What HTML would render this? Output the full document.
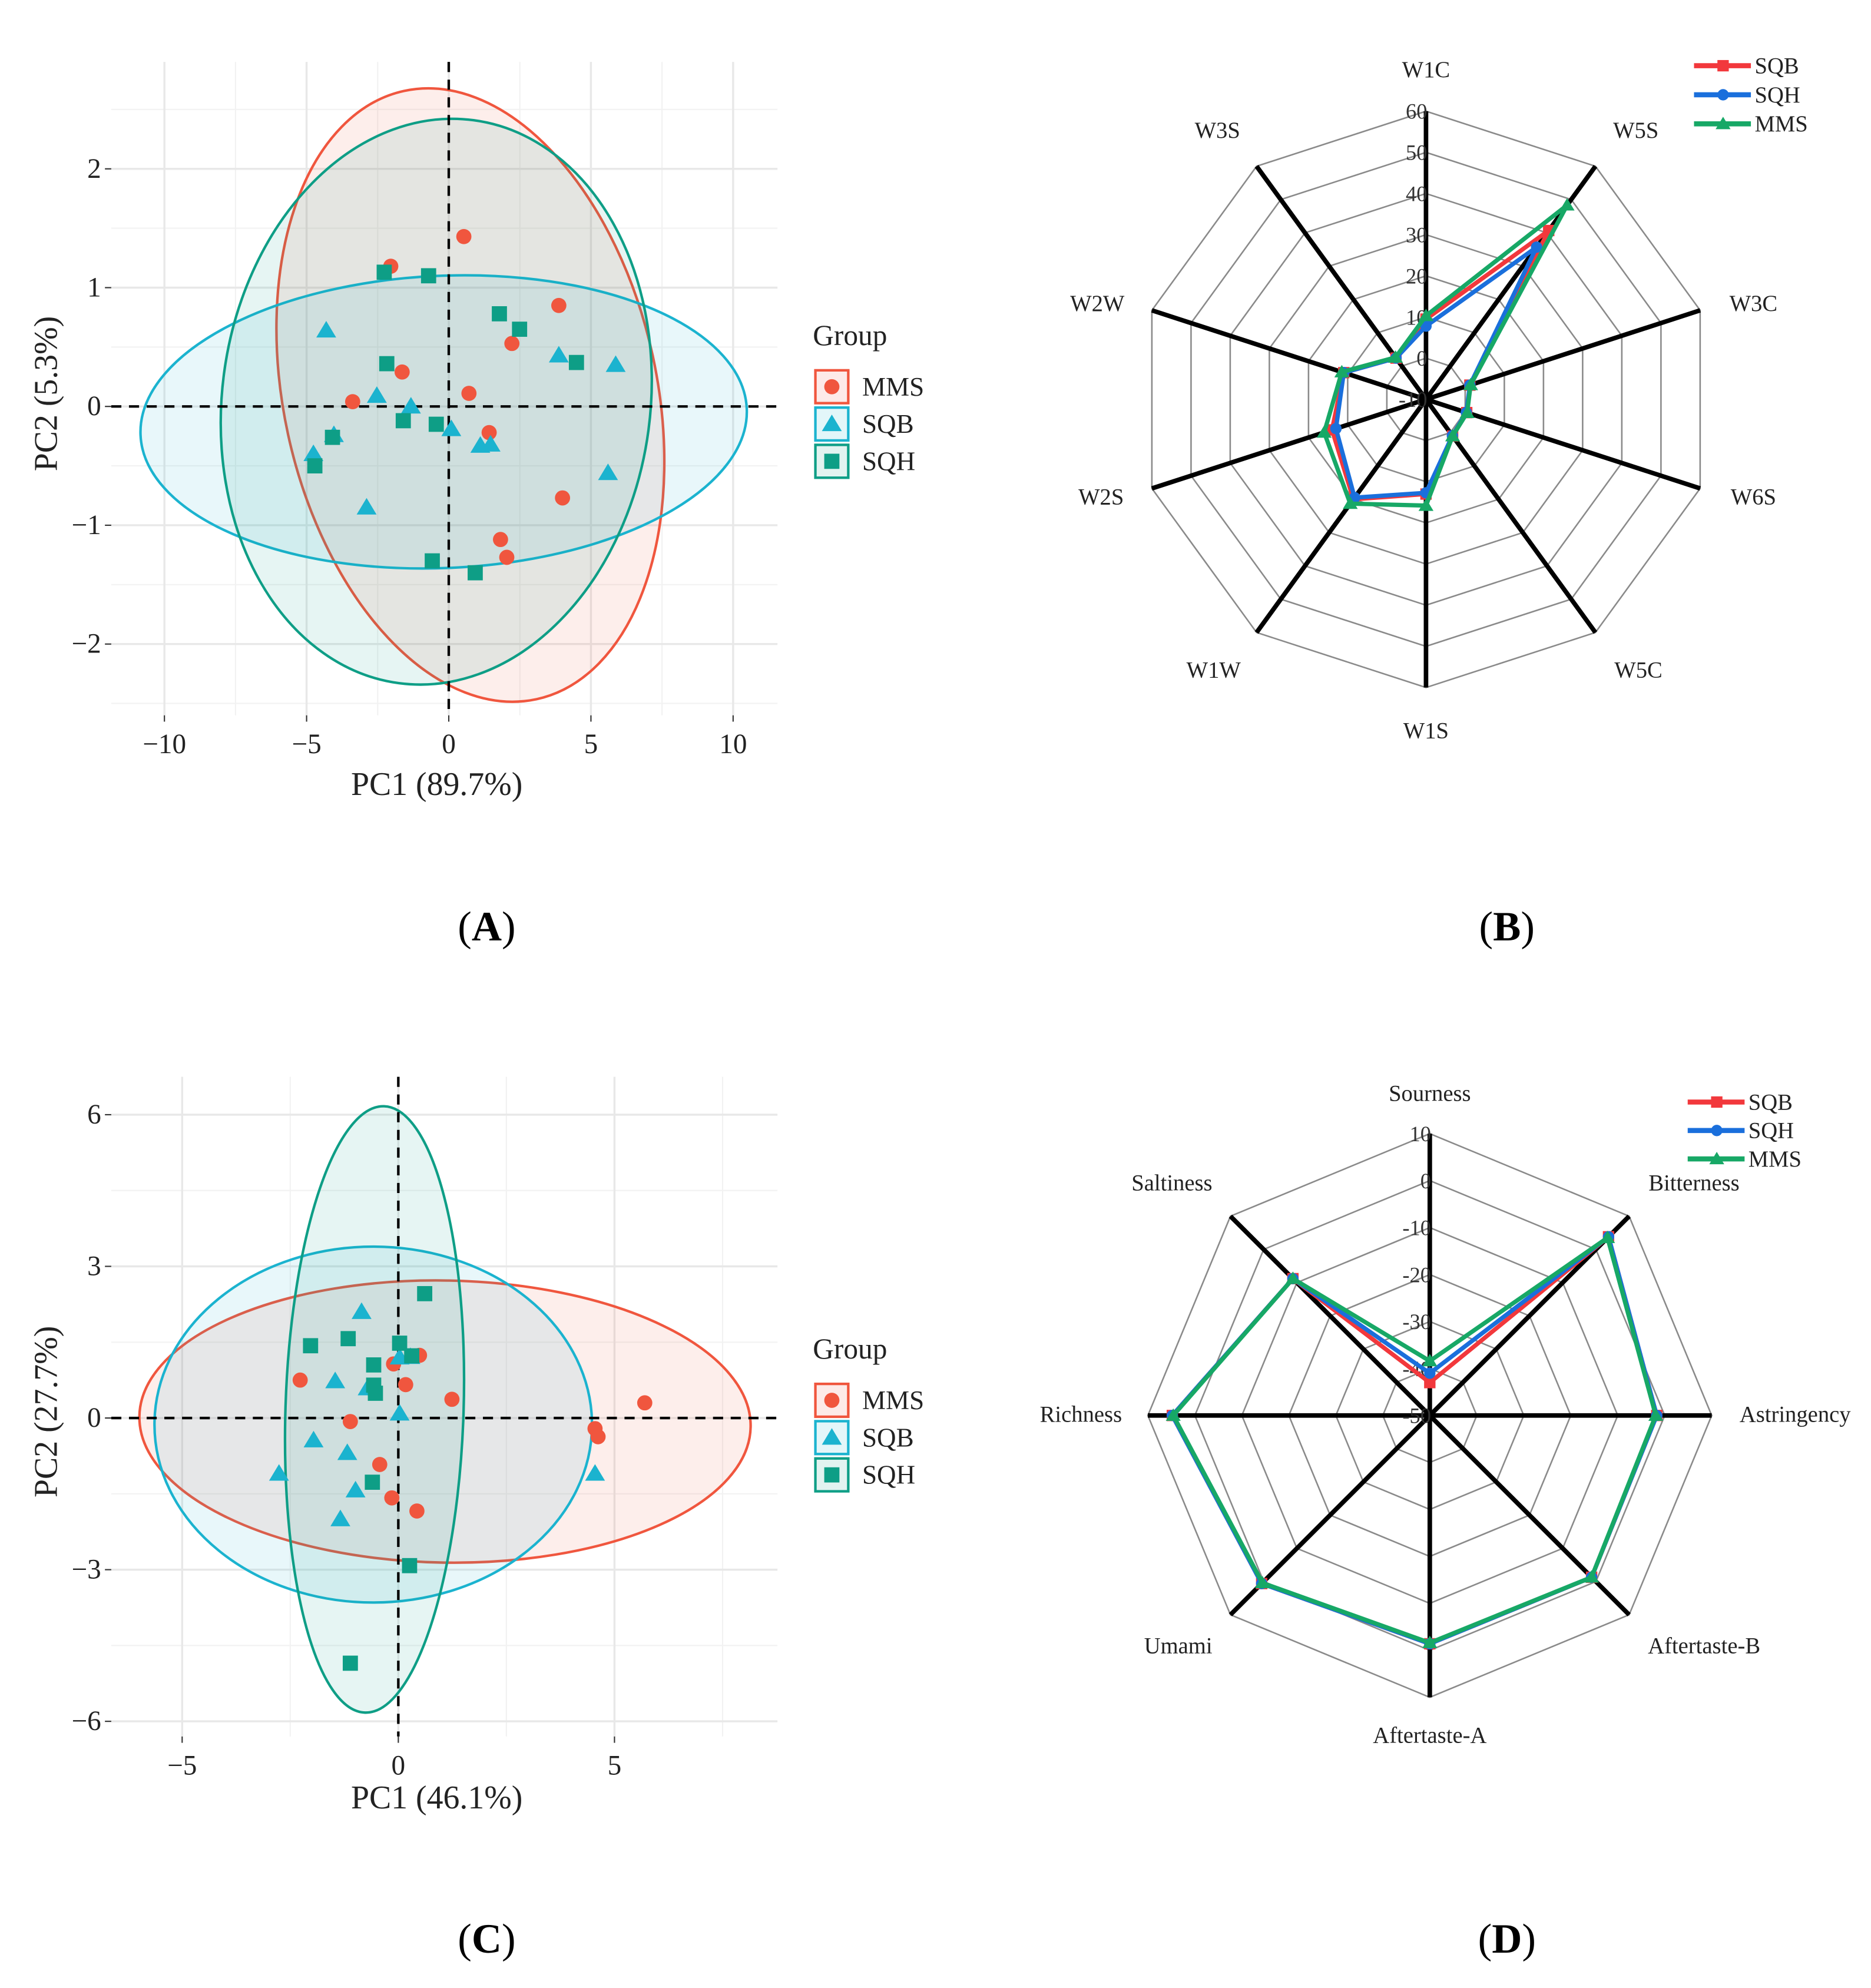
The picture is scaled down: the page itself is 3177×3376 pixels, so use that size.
<!DOCTYPE html>
<html><head><meta charset="utf-8"><style>
html,body{margin:0;padding:0;background:#fff;}
svg{display:block;font-family:"Liberation Serif",serif;}
</style></head><body>
<svg id="fig" xmlns="http://www.w3.org/2000/svg" width="3177" height="3376" viewBox="0 0 1480 1573" preserveAspectRatio="none"></svg>
<script>
// ---------- Panel A data ----------
const A_mms_x=[0.53,-2.04,3.87,2.22,-1.64,0.71,-3.38,1.42,4.0,1.82,2.04];
const A_mms_y=[1.43,1.18,0.85,0.53,0.29,0.11,0.04,-0.22,-0.77,-1.12,-1.27];
const A_sqb_x=[-4.31,-2.53,-1.33,0.09,1.11,1.47,3.87,5.87,5.6,-2.89,-4.76,-4.04];
const A_sqb_y=[0.64,0.09,0.0,-0.19,-0.33,-0.32,0.43,0.35,-0.56,-0.85,-0.4,-0.24];
const A_sqh_x=[-2.27,-0.71,1.78,2.49,4.49,-2.18,-1.6,-0.44,-4.09,-4.71,-0.58,0.93];
const A_sqh_y=[1.13,1.10,0.78,0.65,0.37,0.36,-0.12,-0.15,-0.26,-0.5,-1.3,-1.4];
const A_ell_cx=[0.76,-0.18,-0.44];
const A_ell_cy=[0.096,-0.13,0.04];
const A_ell_rx=[6.56,10.67,7.53];
const A_ell_ry=[2.62,1.23,2.39];
const A_ell_rot=[-12.3,-2.5,7.55];
const A_xticks=[-10,-5,0,5,10];
const A_yticks=[2,1,0,-1,-2];
const A_xtickLabels=["\u221210","\u22125","0","5","10"];
const A_ytickLabels=["2","1","0","\u22121","\u22122"];
// ---------- Panel C data ----------
const C_mms_x=[5.7,4.55,4.62,-2.27,-0.11,0.49,0.17,1.24,-1.11,-0.43,-0.15,0.43];
const C_mms_y=[0.3,-0.21,-0.37,0.75,1.07,1.24,0.66,0.37,-0.07,-0.92,-1.58,-1.84];
const C_sqb_x=[-0.85,-1.46,-0.71,0.03,0.03,-1.96,-1.18,-2.76,-0.99,-1.34,4.55,0.28];
const C_sqb_y=[2.1,0.73,0.59,1.2,0.09,-0.44,-0.69,-1.1,-1.43,-2.0,-1.1,1.21];
const C_sqh_x=[0.61,-2.03,-1.16,0.03,0.31,-0.57,-0.57,-0.53,-0.6,0.26,-1.11];
const C_sqh_y=[2.46,1.43,1.57,1.48,1.23,1.05,0.65,0.49,-1.27,-2.92,-4.85];
const C_ell_cx=[1.08,-0.58,-0.55];
const C_ell_cy=[-0.07,-0.13,0.17];
const C_ell_rx=[7.07,5.06,2.06];
const C_ell_ry=[2.79,3.52,6.0];
const C_ell_rot=[1,0,1.8];
const C_xticks=[-5,0,5];
const C_yticks=[6,3,0,-3,-6];
const C_xtickLabels=["\u22125","0","5"];
const C_ytickLabels=["6","3","0","\u22123","\u22126"];
// ---------- Panel B data ----------
const B_axes=["W1C","W5S","W3C","W6S","W5C","W1S","W1W","W2S","W2W","W3S"];
const B_sqb=[9.5,40.7,1.2,0.4,1,13,20,14,11,2.4];
const B_sqh=[7.8,35.7,1.2,0.3,0.9,12.7,19.5,13,11,2.4];
const B_mms=[10.3,48.3,1.4,0.5,1,15.8,21.3,16,11.5,2.6];
const B_ticks=[60,50,40,30,20,10,0,-10];
// ---------- Panel D data ----------
const D_axes=["Sourness","Bitterness","Astringency","Aftertaste-B","Aftertaste-A","Umami","Richness","Saltiness"];
const D_sqb=[-43,3.8,-1.7,-1.3,-1.4,0.6,4.8,-8.8];
const D_sqh=[-41,3.8,-1.7,-1.3,-1.4,0.6,4.8,-8.8];
const D_mms=[-38.4,3.5,-1.9,-1.3,-1.6,0.4,4.6,-8.8];
const D_ticks=[10,0,-10,-20,-30,-40,-50];

const NS="http://www.w3.org/2000/svg";
const svg=document.getElementById('fig');
function mk(tag,attrs,parent){const e=document.createElementNS(NS,tag);for(const k in attrs)e.setAttribute(k,attrs[k]);(parent||svg).appendChild(e);return e;}
const COL={MMS:"#F0563E",SQB:"#1BB3CF",SQH:"#0E9E86"};

function marker(shape,x,y,color,parent,s){
  s=s||1;let e;
  if(shape==='circle'){e=mk('circle',{cx:x,cy:y,r:6*s,fill:color},parent);}
  else if(shape==='tri'){const h=7.5*s;e=mk('polygon',{points:`${x},${y-h} ${x-h*1.05},${y+h*0.75} ${x+h*1.05},${y+h*0.75}`,fill:color},parent);}
  else {const h=6*s;e=mk('rect',{x:x-h,y:y-h,width:2*h,height:2*h,fill:color},parent);}
  return e;
}

function scatterPanel(cfg){
  const g=mk('g',{});
  
  
  const sx=v=>cfg.x0+(v-cfg.xmin)/(cfg.xmax-cfg.xmin)*(cfg.x1-cfg.x0);
  const sy=v=>cfg.y1-(v-cfg.ymin)/(cfg.ymax-cfg.ymin)*(cfg.y1-cfg.y0);
  for(let i=0;i<cfg.xticks.length-1;i++){const m=(cfg.xticks[i]+cfg.xticks[i+1])/2;const l=mk('line',{x1:sx(m),x2:sx(m),y1:cfg.y0,y2:cfg.y1,stroke:'#f2f2f2','stroke-width':1},g);}
  for(let i=0;i<cfg.yticks.length-1;i++){const m=(cfg.yticks[i]+cfg.yticks[i+1])/2;const l=mk('line',{x1:cfg.x0,x2:cfg.x1,y1:sy(m),y2:sy(m),stroke:'#f2f2f2','stroke-width':1},g);}
  [cfg.xticks[0]-(cfg.xticks[1]-cfg.xticks[0])/2,cfg.xticks[cfg.xticks.length-1]+(cfg.xticks[1]-cfg.xticks[0])/2].forEach(m=>{if(sx(m)>cfg.x0&&sx(m)<cfg.x1){const l=mk('line',{x1:sx(m),x2:sx(m),y1:cfg.y0,y2:cfg.y1,stroke:'#f2f2f2','stroke-width':1},g);}});
  [cfg.yticks[0]+(cfg.yticks[0]-cfg.yticks[1])/2,cfg.yticks[cfg.yticks.length-1]-(cfg.yticks[0]-cfg.yticks[1])/2].forEach(m=>{if(sy(m)>cfg.y0&&sy(m)<cfg.y1){const l=mk('line',{x1:cfg.x0,x2:cfg.x1,y1:sy(m),y2:sy(m),stroke:'#f2f2f2','stroke-width':1},g);}});
  cfg.xticks.forEach((t,i)=>{
    const l=mk('line',{x1:sx(t),x2:sx(t),y1:cfg.y0,y2:cfg.y1,stroke:'#e8e8e8','stroke-width':1.6},g);
    
    const tk=mk('line',{x1:sx(t),x2:sx(t),y1:cfg.y1,y2:cfg.y1+5,stroke:'#333','stroke-width':1},g);
    
    const tx=mk('text',{x:sx(t),y:cfg.y1+30,'text-anchor':'middle','font-size':22,fill:'#222'},g);tx.textContent=cfg.xlabels[i];
    
  });
  cfg.yticks.forEach((t,i)=>{
    const l=mk('line',{x1:cfg.x0,x2:cfg.x1,y1:sy(t),y2:sy(t),stroke:'#e8e8e8','stroke-width':1.6},g);
    
    const tk=mk('line',{x1:cfg.x0-5,x2:cfg.x0,y1:sy(t),y2:sy(t),stroke:'#333','stroke-width':1},g);
    
    const tx=mk('text',{x:cfg.x0-8,y:sy(t)+7,'text-anchor':'end','font-size':22,fill:'#222'},g);tx.textContent=cfg.ylabels[i];
    
  });
  const groups=['MMS','SQB','SQH'];
  groups.forEach((gr,i)=>{
    const cx=sx(cfg.ell.cx[i]),cy=sy(cfg.ell.cy[i]);
    const rx=cfg.ell.rx[i]*(cfg.x1-cfg.x0)/(cfg.xmax-cfg.xmin);
    const ry=cfg.ell.ry[i]*(cfg.y1-cfg.y0)/(cfg.ymax-cfg.ymin);
    const e=mk('ellipse',{cx:cx,cy:cy,rx:rx,ry:ry,transform:`rotate(${cfg.ell.rot[i]} ${cx} ${cy})`,fill:COL[gr],'fill-opacity':0.1,stroke:COL[gr],'stroke-width':2},g);
    
    
  });
  const zl1=mk('line',{x1:sx(0),x2:sx(0),y1:cfg.y0,y2:cfg.y1,stroke:'#000','stroke-width':2,'stroke-dasharray':'8,6'},g);
  
  const zl2=mk('line',{x1:cfg.x0,x2:cfg.x1,y1:sy(0),y2:sy(0),stroke:'#000','stroke-width':2,'stroke-dasharray':'8,6'},g);
  
  const shapes={MMS:'circle',SQB:'tri',SQH:'sq'};
  groups.forEach(gr=>{
    const xs=cfg.pts[gr][0],ys=cfg.pts[gr][1];
    xs.forEach((v,j)=>{
      const m=marker(shapes[gr],sx(v),sy(ys[j]),COL[gr],g);
      
      
    });
  });
  const xt=mk('text',{x:(cfg.x0+cfg.x1)/2-6,y:cfg.xtitleY,'text-anchor':'middle','font-size':26,fill:'#222'},g);xt.textContent=cfg.xtitle;
  
  const ycy=(cfg.y0+cfg.y1)/2+4;
  const yt=mk('text',{x:45,y:ycy,'text-anchor':'middle','font-size':26,fill:'#222',transform:`rotate(-90 45 ${ycy})`},g);yt.textContent=cfg.ytitle;
  
  const lg=mk('g',{},g);
  
  const lt=mk('text',{x:643,y:cfg.legY,'font-size':23,fill:'#222'},lg);lt.textContent='Group';
  
  groups.forEach((gr,i)=>{
    const cy=cfg.legY+33+i*29.5;
    const b=mk('rect',{x:645,y:cy-13,width:26,height:26,fill:COL[gr],'fill-opacity':0.12,stroke:COL[gr],'stroke-width':2},lg);
    
    const m=marker(shapes[gr],658,cy,COL[gr],lg);
    
    const t=mk('text',{x:682,y:cy+7,'font-size':21,fill:'#222'},lg);t.textContent=gr;
    
  });
}

scatterPanel({name:'pca-plot-a',x0:88,x1:615,y0:49,y1:566,xmin:-11.87,xmax:11.56,ymin:-2.6,ymax:2.9,
  xticks:A_xticks,yticks:A_yticks,xlabels:A_xtickLabels,ylabels:A_ytickLabels,
  ell:{cx:A_ell_cx,cy:A_ell_cy,rx:A_ell_rx,ry:A_ell_ry,rot:A_ell_rot},
  pts:{MMS:[A_mms_x,A_mms_y],SQB:[A_sqb_x,A_sqb_y],SQH:[A_sqh_x,A_sqh_y]},
  xtitle:'PC1 (89.7%)',ytitle:'PC2 (5.3%)',xtitleY:629,legY:273});
scatterPanel({name:'pca-plot-c',x0:88,x1:615,y0:852,y1:1374,xmin:-6.64,xmax:8.77,ymin:-6.3,ymax:6.75,
  xticks:C_xticks,yticks:C_yticks,xlabels:C_xtickLabels,ylabels:C_ytickLabels,
  ell:{cx:C_ell_cx,cy:C_ell_cy,rx:C_ell_rx,ry:C_ell_ry,rot:C_ell_rot},
  pts:{MMS:[C_mms_x,C_mms_y],SQB:[C_sqb_x,C_sqb_y],SQH:[C_sqh_x,C_sqh_y]},
  xtitle:'PC1 (46.1%)',ytitle:'PC2 (27.7%)',xtitleY:1431,legY:1075});

const RCOL={SQB:"#F2383C",SQH:"#1A6FDC",MMS:"#17A866"};
function radarPanel(cfg){
  const g=mk('g',{});
  
  
  const n=cfg.axes.length,vmax=cfg.ticks[0],vmin=cfg.ticks[cfg.ticks.length-1];
  const r=v=>(v-vmin)/(vmax-vmin)*cfg.R;
  const pt=(i,v)=>{const a=i*2*Math.PI/n;return [cfg.cx+r(v)*Math.sin(a),cfg.cy-r(v)*Math.cos(a)];};
  cfg.ticks.forEach(t=>{
    if(t===vmin)return;
    const pts=[];for(let i=0;i<n;i++)pts.push(pt(i,t).join(','));
    const p=mk('polygon',{points:pts.join(' '),fill:'none',stroke:'#8a8a8a','stroke-width':1.2},g);
    
  });
  for(let i=0;i<n;i++){
    const e=pt(i,vmax);
    const l=mk('line',{x1:cfg.cx,y1:cfg.cy,x2:e[0],y2:e[1],stroke:'#000','stroke-width':3.6},g);
    
    const t=mk('text',{x:cfg.labelPos[i][0],y:cfg.labelPos[i][1],'text-anchor':'middle','font-size':cfg.fs,fill:'#222'},g);
    t.textContent=cfg.axes[i];
    
  }
  cfg.ticks.forEach(t=>{
    const tx=mk('text',{x:cfg.cx+1,y:cfg.cy-r(t)+6,'text-anchor':'end','font-size':cfg.fs-1,fill:'#333'},g);
    tx.textContent=String(t);
    
  });
  const shapes={SQB:'sq',SQH:'circle',MMS:'tri'};
  ['SQB','SQH','MMS'].forEach(gr=>{
    const vals=cfg.series[gr];
    const pts=vals.map((v,i)=>pt(i,v).join(','));
    const p=mk('polygon',{points:pts.join(' '),fill:'none',stroke:RCOL[gr],'stroke-width':3.4,'stroke-linejoin':'round'},g);
    
    vals.forEach((v,i)=>{const q=pt(i,v);const m=marker(shapes[gr],q[0],q[1],RCOL[gr],g,0.75);
      });
  });
  const lg=mk('g',{},g);
  
  ['SQB','SQH','MMS'].forEach((gr,i)=>{
    const y=cfg.legY+i*cfg.legDy;
    const l=mk('line',{x1:cfg.legX,x2:cfg.legX+45,y1:y,y2:y,stroke:RCOL[gr],'stroke-width':4},lg);
    
    const m=marker(shapes[gr],cfg.legX+23,y,RCOL[gr],lg,0.75);
    
    const t=mk('text',{x:cfg.legX+48,y:y+6,'font-size':cfg.fs,fill:'#222'},lg);t.textContent=gr;
    
  });
}
radarPanel({name:'radar-chart-b',cx:1128,cy:316,R:228,axes:B_axes,ticks:B_ticks,fs:18,
  series:{SQB:B_sqb,SQH:B_sqh,MMS:B_mms},
  labelPos:[[1128,61],[1294,109],[1387,246],[1387,399],[1296,536],[1128,584],[960,536],[871,399],[868,246],[963,109]],
  legX:1340,legY:52,legDy:23});
radarPanel({name:'radar-chart-d',cx:1131,cy:1120,R:223,axes:D_axes,ticks:D_ticks,fs:18,
  series:{SQB:D_sqb,SQH:D_sqh,MMS:D_mms},
  labelPos:[[1131,871],[1340,942],[1420,1125],[1348,1308],[1131,1379],[932,1308],[855,1125],[927,942]],
  legX:1335,legY:872,legDy:22.5});

[["A",385,744],["B",1192,744],["C",385,1545],["D",1192,1545]].forEach(c=>{
  const t=mk('text',{x:c[1],y:c[2],'text-anchor':'middle','font-size':33,fill:'#000'});
  
  
  const a=mk('tspan',{},t);a.textContent='(';
  const b=mk('tspan',{'font-weight':'bold'},t);b.textContent=c[0];
  const d=mk('tspan',{},t);d.textContent=')';
});
</script>
</body></html>
